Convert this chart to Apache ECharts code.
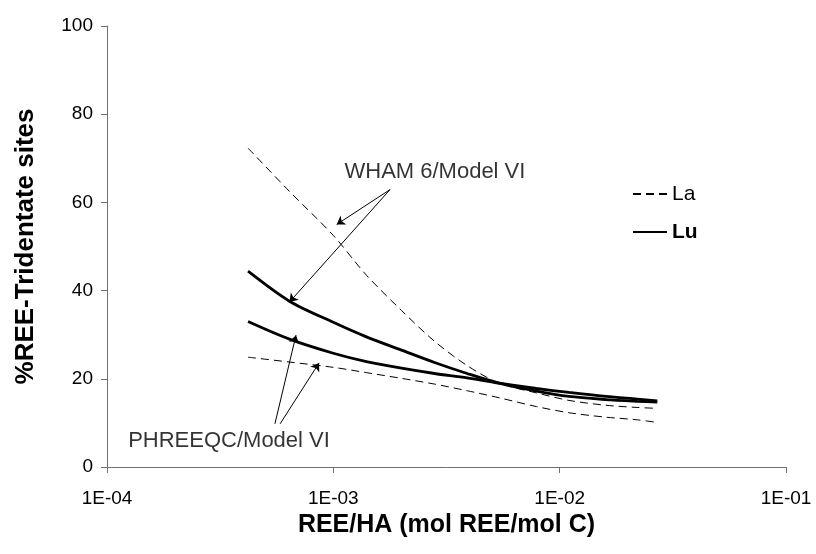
<!DOCTYPE html>
<html>
<head>
<meta charset="utf-8">
<script src="https://cdn.jsdelivr.net/npm/echarts@6/dist/echarts.min.js"></script>
<style>html,body{margin:0;padding:0;background:#fff}#c{width:816px;height:554px}</style>
</head>
<body>
<div id="c"></div>
<script>
// REE/HA (mol REE/mol C)
const xVals = [4.2e-4, 6.4e-4, 1.0e-3, 1.4e-3, 2.0e-3, 2.8e-3, 3.9e-3, 5.4e-3, 7.9e-3, 1.1e-2, 1.6e-2, 2.2e-2, 2.7e-2];
// %REE-Tridentate sites
const laWham    = [72.3, 62.5, 52.5, 43.5, 35.5, 28.5, 23.0, 19.0, 16.8, 15.1, 14.0, 13.5, 13.3];
const luWham    = [44.4, 37.6, 32.8, 29.5, 26.5, 23.7, 21.2, 19.0, 17.2, 16.0, 15.3, 14.9, 14.7];
const luPhreeqc = [33.0, 29.0, 25.8, 23.9, 22.4, 21.2, 20.2, 19.0, 17.8, 16.9, 16.0, 15.4, 15.0];
const laPhreeqc = [24.9, 23.8, 22.6, 21.4, 20.1, 18.8, 17.3, 15.7, 13.7, 12.3, 11.3, 10.7, 10.1];
const yTicks = [0, 20, 40, 60, 80, 100];
const xTicks = ['1E-04', '1E-03', '1E-02', '1E-01'];

// annotation anchors (data coordinates)
const whamLabel = [1.12e-3, 67.0];
const phreeqcLabel = [1.24e-4, 6.0];
const whamArrows = [[[1.78e-3, 62.9], [1.035e-3, 55.0]], [[1.78e-3, 62.9], [6.4e-4, 37.4]]];
const phreeqcArrows = [[[5.52e-4, 9.8], [6.84e-4, 29.9]], [[5.82e-4, 9.8], [8.65e-4, 23.6]]];

const FONT = 'Liberation Sans, Arial, sans-serif';
const pair = ys => xVals.map((x, i) => [x, ys[i]]);

const chart = echarts.init(document.getElementById('c'), null, {renderer: 'canvas'});
const laStyle = {color: '#000', width: 1, type: [8, 5]};
const luStyle = {color: '#000', width: 2.8, type: 'solid'};
const lineCommon = {type: 'line', smooth: 0.3, symbol: 'none', showSymbol: false, itemStyle: {color: '#000'}};

chart.setOption({
  animation: false,
  backgroundColor: '#fff',
  grid: {left: 107, right: 30, top: 26, bottom: 87, containLabel: false},
  legend: [
    {data: ['La'], orient: 'vertical', left: 627, top: 177, itemWidth: 34, itemHeight: 14,
     itemStyle: {opacity: 0},
     textStyle: {fontFamily: FONT, fontSize: 21, color: '#000', lineHeight: 24}},
    {data: ['Lu'], orient: 'vertical', left: 627, top: 215, itemWidth: 34, itemHeight: 14,
     itemStyle: {opacity: 0},
     textStyle: {fontFamily: FONT, fontSize: 21, fontWeight: 'bold', color: '#000', lineHeight: 24}}
  ],
  xAxis: {
    type: 'log', logBase: 10, min: 1e-4, max: 1e-1,
    name: 'REE/HA (mol REE/mol C)', nameLocation: 'middle', nameGap: 42,
    nameTextStyle: {fontFamily: FONT, fontSize: 25, fontWeight: 'bold', color: '#000'},
    axisLine: {lineStyle: {color: '#707070', width: 1}},
    axisTick: {show: true, length: 6, lineStyle: {color: '#707070'}},
    minorTick: {show: false},
    splitLine: {show: false},
    axisLabel: {fontFamily: FONT, fontSize: 19, color: '#000', margin: 22,
      formatter: v => xTicks[Math.round(Math.log10(v)) + 4] || ''}
  },
  yAxis: {
    type: 'value', min: yTicks[0], max: yTicks[yTicks.length - 1], interval: 20,
    name: '%REE-Tridentate sites', nameLocation: 'middle', nameGap: 68, nameRotate: 90,
    nameTextStyle: {fontFamily: FONT, fontSize: 26, fontWeight: 'bold', color: '#000'},
    axisLine: {show: true, lineStyle: {color: '#707070', width: 1}},
    axisTick: {show: true, length: 6, lineStyle: {color: '#707070'}},
    splitLine: {show: false},
    axisLabel: {fontFamily: FONT, fontSize: 19, color: '#000', margin: 14}
  },
  series: [
    Object.assign({name: 'La', data: pair(laWham), lineStyle: laStyle}, lineCommon),
    Object.assign({name: 'Lu', data: pair(luWham), lineStyle: luStyle}, lineCommon),
    Object.assign({name: 'Lu', data: pair(luPhreeqc), lineStyle: luStyle}, lineCommon),
    Object.assign({name: 'La', data: pair(laPhreeqc), lineStyle: laStyle}, lineCommon),
    {name: 'arrows', type: 'lines', coordinateSystem: 'cartesian2d', silent: true,
     symbol: ['none', 'arrow'], symbolSize: [0, 8],
     lineStyle: {color: '#000', width: 1, opacity: 1, curveness: 0},
     data: whamArrows.concat(phreeqcArrows).map(c => ({coords: c}))},
    {name: 'notes', type: 'scatter', silent: true, symbolSize: 0, symbol: 'circle',
     itemStyle: {color: 'transparent'},
     label: {show: true, position: 'right', distance: 0, fontFamily: FONT, fontSize: 22, color: '#000',
       formatter: p => p.name},
     data: [{name: 'WHAM 6/Model VI', value: whamLabel}, {name: 'PHREEQC/Model VI', value: phreeqcLabel}]}
  ]
});
</script>
</body>
</html>
